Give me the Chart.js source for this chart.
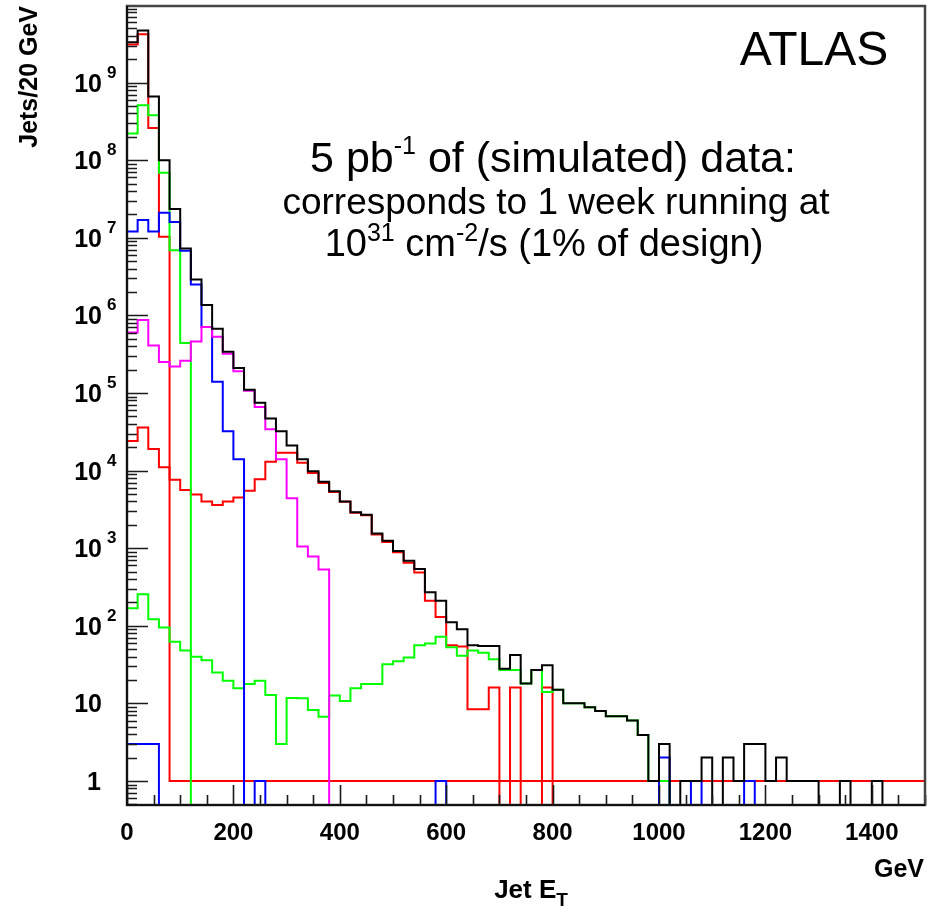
<!DOCTYPE html>
<html>
<head>
<meta charset="utf-8">
<title>Jet ET - 5 pb-1 simulated data</title>
<script src="https://cdn.jsdelivr.net/npm/chart.js@4.4.1/dist/chart.umd.min.js"></script>
<style>
  html, body { margin: 0; padding: 0; background: #fff; }
  canvas { display: block; }
</style>
</head>
<body>
<canvas id="jetChart" width="928" height="914"></canvas>
<script>
// ===== histogram setup: 75 bins of 20 GeV from 0 to 1500 GeV =====
const binWidth = 20;
const xTickLabels = [0, 200, 400, 600, 800, 1000, 1200, 1400];
const yDecades = [0, 1, 2, 3, 4, 5, 6, 7, 8, 9];

// black: all jets
const allJets = [
  3.3e9, 4.7e9, 6.6e8, 1.0e8, 2.35e7, 7.3e6, 2.9e6, 1.36e6, 6.7e5, 3.4e5,
  2.1e5, 1.1e5, 7.5e4, 4.7e4, 3.2e4, 2.1e4, 1.4e4, 9.8e3, 7.2e3, 5.4e3,
  4.0e3, 2.9e3, 2.7e3, 1.55e3, 1.25e3, 920, 690, 540, 270, 210,
  111, 90, 56, 55, 55, 28, 42, 18, 27, 31,
  15, 10, 10, 8.9, 8, 6.8, 6.8, 6, 3.9, 1,
  3, 0, 1, 1, 2, 0, 2, 1, 3, 3,
  1, 2, 1, 1, 1, 0, 0, 1, 0, 0,
  1, 0, 0, 0, 0
];

// red, low-ET sample (sits at 1 above 80 GeV)
const redLow = [
  3.1e9, 4.2e9, 2.6e8, 1.03e7, 1, 1, 1, 1, 1, 1,
  1, 1, 1, 1, 1, 1, 1, 1, 1, 1,
  1, 1, 1, 1, 1, 1, 1, 1, 1, 1,
  1, 1, 1, 1, 1, 1, 1, 1, 1, 1,
  1, 1, 1, 1, 1, 1, 1, 1, 1, 1,
  1, 1, 1, 1, 1, 1, 1, 1, 1, 1,
  1, 1, 1, 1, 1, 1, 1, 1, 1, 1,
  1, 1, 1, 1, 1
];

// red, high-ET sample
const redHigh = [
  2.4e4, 3.6e4, 1.9e4, 1.1e4, 7.6e3, 5.6e3, 4.9e3, 4.0e3, 3.6e3, 4.0e3,
  4.5e3, 5.5e3, 7.7e3, 1.3e4, 1.7e4, 1.7e4, 1.26e4, 9.3e3, 6.9e3, 5.3e3,
  3.95e3, 2.85e3, 2.65e3, 1.5e3, 1.2e3, 885, 650, 484, 210, 130,
  56, 54, 8.4, 8.4, 16, 0, 16, 0, 0, 16,
  0, 0, 0, 0, 0, 0, 0, 0, 0, 0,
  0, 0, 0, 0, 0, 0, 0, 0, 0, 0,
  0, 0, 0, 0, 0, 0, 0, 0, 0, 0,
  0, 0, 0, 0, 0
];

const greenLow = [
  2.2e8, 5.1e8, 3.8e8, 6.9e7, 6.9e6, 4.4e5, 0, 0, 0, 0,
  0, 0, 0, 0, 0, 0, 0, 0, 0, 0,
  0, 0, 0, 0, 0, 0, 0, 0, 0, 0,
  0, 0, 0, 0, 0, 0, 0, 0, 0, 0,
  0, 0, 0, 0, 0, 0, 0, 0, 0, 0,
  0, 0, 0, 0, 0, 0, 0, 0, 0, 0,
  0, 0, 0, 0, 0, 0, 0, 0, 0, 0,
  0, 0, 0, 0, 0
];

const greenHigh = [
  168, 255, 121, 95, 62, 48, 40, 36, 25, 19.5,
  15.6, 17.7, 19.5, 12.8, 3, 11.7, 11.6, 8.2, 6.7, 12.6,
  10.7, 15.6, 17.8, 17.8, 32, 35, 39, 56, 59, 72,
  53, 41, 48, 45, 37, 27, 27, 18, 27, 14,
  15, 10, 10, 8.9, 8, 6.8, 6.8, 6, 3.9, 1,
  1, 0, 0, 0, 0, 0, 0, 0, 0, 0,
  0, 0, 0, 0, 0, 0, 0, 0, 0, 0,
  0, 0, 0, 0, 0
];

const blueLow = [
  1.2e7, 1.7e7, 1.2e7, 2.1e7, 1.6e7, 6.8e6, 2.5e6, 7.1e5, 1.4e5, 3.2e4,
  1.4e4, 0, 1, 0, 0, 0, 0, 0, 0, 0,
  0, 0, 0, 0, 0, 0, 0, 0, 0, 0,
  0, 0, 0, 0, 0, 0, 0, 0, 0, 0,
  0, 0, 0, 0, 0, 0, 0, 0, 0, 0,
  0, 0, 0, 0, 0, 0, 0, 0, 0, 0,
  0, 0, 0, 0, 0, 0, 0, 0, 0, 0,
  0, 0, 0, 0, 0
];

const blueHigh = [
  3, 3, 3, 0, 0, 0, 0, 0, 0, 0,
  0, 0, 0, 0, 0, 0, 0, 0, 0, 0,
  0, 0, 0, 0, 0, 0, 0, 0, 0, 1,
  0, 0, 0, 0, 0, 0, 0, 0, 0, 0,
  0, 0, 0, 0, 0, 0, 0, 0, 0, 0,
  2, 0, 0, 1, 0, 0, 0, 0, 1, 0,
  0, 0, 0, 0, 0, 0, 0, 0, 0, 0,
  0, 0, 0, 0, 0
];

const magenta = [
  6.0e5, 8.7e5, 4.1e5, 2.5e5, 2.2e5, 2.6e5, 4.6e5, 7.1e5, 5.3e5, 3.2e5,
  1.9e5, 1.07e5, 6.6e4, 3.4e4, 1.4e4, 4.4e3, 1.05e3, 780, 530, 0,
  0, 0, 0, 0, 0, 0, 0, 0, 0, 0,
  0, 0, 0, 0, 0, 0, 0, 0, 0, 0,
  0, 0, 0, 0, 0, 0, 0, 0, 0, 0,
  0, 0, 0, 0, 0, 0, 0, 0, 0, 0,
  0, 0, 0, 0, 0, 0, 0, 0, 0, 0,
  0, 0, 0, 0, 0
];

// empty bins drop through the bottom of the frame, like ROOT does on log scale
const zeroFloor = 0.05;

// bin contents -> step points at bin low edges (+ closing point at last high edge)
function toSteps(values) {
	const pts = values.map((v, i) => ({ x: i * binWidth, y: v > 0 ? v : zeroFloor }));
	pts.push({ x: values.length * binWidth, y: pts[pts.length - 1].y });
	return pts;
}

function histo(label, values, color) {
	return {
		label,
		data: toSteps(values),
		borderColor: color,
		borderWidth: 2,
		stepped: true,
		pointRadius: 0,
		tension: 0,
		fill: false,
	};
}

const FONT = "'Liberation Sans', Arial, Helvetica, sans-serif";

// draws a line of text made of pieces with their own size / vertical offset
function drawRich(ctx, parts, x, y, align) {
	let width = 0;
	parts.forEach((p) => {
		ctx.font = `${p.bold ? "bold " : ""}${p.size}px ${FONT}`;
		width += ctx.measureText(p.t).width;
	});
	let cx = align === "center" ? x - width / 2 : align === "right" ? x - width : x;
	ctx.textAlign = "left";
	ctx.textBaseline = "alphabetic";
	parts.forEach((p) => {
		ctx.font = `${p.bold ? "bold " : ""}${p.size}px ${FONT}`;
		ctx.fillText(p.t, cx, y + (p.dy || 0));
		cx += ctx.measureText(p.t).width;
	});
}

// ===== ROOT-like frame, inner ticks, labels and annotation =====
const rootStyle = {
	id: "rootStyle",
	afterDraw(chart) {
		const { ctx, chartArea: a } = chart;
		const xs = chart.scales.x;
		const ys = chart.scales.y;
		ctx.save();

		// ticks (inside the frame, left and bottom only)
		ctx.strokeStyle = "#1a1a1a";
		ctx.lineWidth = 1.6;
		ctx.beginPath();
		for (let e = -1; e <= 10; e++) {
			for (let m = 1; m <= 9; m++) {
				const v = m * Math.pow(10, e);
				if (v < ys.min || v > ys.max) continue;
				const py = Math.round(ys.getPixelForValue(v)) + 0.5;
				ctx.moveTo(a.left, py);
				ctx.lineTo(a.left + (m === 1 ? 21 : 10), py);
			}
		}
		for (let g = 0; g <= 1500; g += 50) {
			const px = Math.round(xs.getPixelForValue(g)) + 0.5;
			ctx.moveTo(px, a.bottom);
			ctx.lineTo(px, a.bottom - (g % 200 === 0 ? 20 : 10));
		}
		ctx.stroke();

		// frame
		ctx.strokeStyle = "#444";
		ctx.lineWidth = 2.5;
		ctx.strokeRect(a.left, a.top, a.right - a.left, a.bottom - a.top);
		ctx.strokeStyle = "#111";
		ctx.lineWidth = 2;
		ctx.beginPath();
		ctx.moveTo(a.left, a.top);
		ctx.lineTo(a.left, a.bottom);
		ctx.lineTo(a.right, a.bottom);
		ctx.stroke();

		ctx.fillStyle = "#000";

		// y tick labels 1, 10, 10^2 ... 10^9
		yDecades.forEach((d) => {
			const py = ys.getPixelForValue(Math.pow(10, d));
			if (d === 0) {
				drawRich(ctx, [{ t: "1", size: 25, bold: true }], 101, py + 9, "right");
			} else if (d === 1) {
				drawRich(ctx, [{ t: "10", size: 25, bold: true }], 102, py + 9, "right");
			} else {
				drawRich(ctx, [{ t: "10", size: 25, bold: true }], 102, py + 9, "right");
				drawRich(ctx, [{ t: String(d), size: 17, bold: true }], 107, py - 5, "left");
			}
		});

		// x tick labels
		xTickLabels.forEach((g) => {
			const px = xs.getPixelForValue(g);
			drawRich(ctx, [{ t: String(g), size: 24, bold: true }], px, 840, "center");
		});

		// axis titles
		drawRich(ctx, [{ t: "GeV", size: 25, bold: true }], 924, 877, "right");
		drawRich(
			ctx,
			[
				{ t: "Jet E", size: 26, bold: true },
				{ t: "T", size: 19, bold: true, dy: 8 },
			],
			531,
			898,
			"center"
		);
		ctx.save();
		ctx.translate(37, 6);
		ctx.rotate(-Math.PI / 2);
		drawRich(ctx, [{ t: "Jets/20 GeV", size: 25, bold: true }], 0, 0, "right");
		ctx.restore();

		// annotation
		drawRich(ctx, [{ t: "ATLAS", size: 48 }], 814, 65, "center");
		drawRich(
			ctx,
			[
				{ t: "5 pb", size: 43 },
				{ t: "-1", size: 25, dy: -18 },
				{ t: " of (simulated) data:", size: 43 },
			],
			553,
			172,
			"center"
		);
		drawRich(ctx, [{ t: "corresponds to 1 week running at", size: 37 }], 556, 214, "center");
		drawRich(
			ctx,
			[
				{ t: "10", size: 38 },
				{ t: "31", size: 25, dy: -15 },
				{ t: " cm", size: 38 },
				{ t: "-2", size: 25, dy: -15 },
				{ t: "/s (1% of design)", size: 38 },
			],
			544,
			256,
			"center"
		);

		ctx.restore();
	},
};

// first dataset is painted last (on top)
const jetChart = new Chart(document.getElementById("jetChart"), {
	type: "line",
	data: {
		datasets: [
			histo("All jets", allJets, "#000000"),
			histo("Magenta", magenta, "#ff00ff"),
			histo("Blue high", blueHigh, "#0000ff"),
			histo("Blue low", blueLow, "#0000ff"),
			histo("Green high", greenHigh, "#00ff00"),
			histo("Green low", greenLow, "#00ff00"),
			histo("Red high", redHigh, "#ff0000"),
			histo("Red low", redLow, "#ff0000"),
		],
	},
	options: {
		responsive: false,
		animation: false,
		devicePixelRatio: 1,
		layout: { padding: { left: 127, right: 3, top: 6, bottom: 109 } },
		plugins: {
			legend: { display: false },
			tooltip: { enabled: false },
		},
		scales: {
			x: { type: "linear", min: 0, max: 1500, display: false },
			y: { type: "logarithmic", min: 0.49, max: 9.7e9, display: false },
		},
	},
	plugins: [rootStyle],
});
</script>
</body>
</html>
